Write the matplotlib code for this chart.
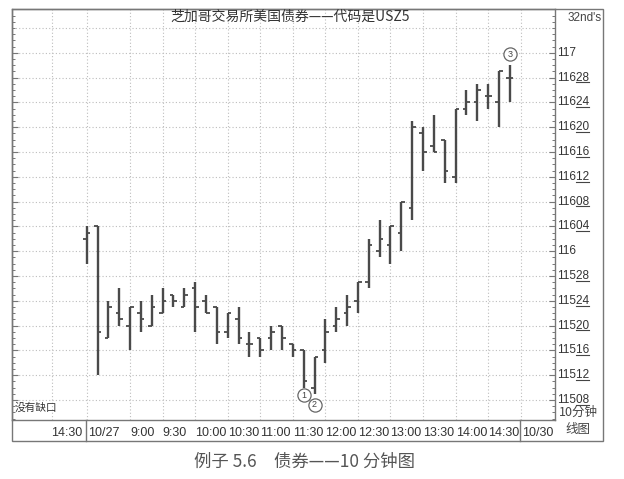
import matplotlib
matplotlib.use('Agg')
import matplotlib.pyplot as plt
from matplotlib.patches import Rectangle
from matplotlib.lines import Line2D
from matplotlib.ticker import MultipleLocator
import matplotlib.transforms as mtransforms

plt.rcParams['font.family'] = ['Liberation Sans', 'Noto Sans CJK SC', 'DejaVu Sans']

# ---- data: prices in 32nds above 115 (e.g. 32 = 116, 64 = 117) ----
opens  = [34, 36, 18, 22, 20, 22, 20, 22, 25, 23, 26, 24, 23, 19, 21, 17, 18, 18, 20, 17,
          16, 10, 16, 20, 22, 24, 27, 32, 33, 35, 39, 51, 49, 50, 44, 55, 56, 57, 56, 60]
highs  = [36, 36, 24, 26, 23, 24, 25, 26, 25, 26, 27, 25, 23, 22, 23, 19, 18, 20, 20, 17,
          16, 15, 21, 23, 25, 27, 34, 37, 36, 40, 53, 52, 54, 50, 55, 58, 59, 59, 61, 62]
lows   = [30, 12, 18, 20, 16, 19, 20, 22, 23, 23, 19, 22, 17, 18, 17, 15, 15, 16, 16, 15,
          10,  9, 14, 19, 20, 22, 26, 31, 30, 32, 37, 45, 48, 43, 43, 54, 53, 55, 52, 56]
closes = [35, 19, 23, 21, 23, 21, 23, 24, 24, 25, 23, 22, 19, 22, 18, 17, 16, 19, 18, 16,
          11, 15, 19, 21, 23, 27, 33, 34, 36, 40, 52, 48, 48, 45, 55, 56, 58, 57, 61, 60]

ytick_vals = [8, 12, 16, 20, 24, 28, 32, 36, 40, 44, 48, 52, 56, 60, 64]
ytick_labels = ['11508', '11512', '11516', '11520', '11524', '11528', '116',
                '11604', '11608', '11612', '11616', '11620', '11624', '11628', '117']
grid_y = [8, 12, 16, 20, 24, 28, 32, 36, 40, 44, 48, 52, 56, 60, 64, 68]

xtick_pos = [4, 7, 10, 13, 16, 19, 22, 25, 28, 31, 34, 37]
xtick_labels = ['9:00', '9:30', '10:00', '10:30', '11:00', '11:30', '12:00',
                '12:30', '13:00', '13:30', '14:00', '14:30']
grid_x = [-3.2, 0, 4, 7, 10, 13, 16, 19, 22, 25, 28, 31, 34, 37, 40]
day_sep = [0, 40]
day_labels = ['10/27', '10/30']
prev_label = '14:30'

marker_bars = [20, 21, 39]
marker_text = ['1', '2', '3']

title = '芝加哥交易所美国债券——代码是USZ5'
caption = '例子 5.6　债券——10 分钟图'

W, H = 624, 479
fig = plt.figure(figsize=(W / 100, H / 100), dpi=100)
fig.patch.set_facecolor('white')


def fx(x):
    return x / W


def fy(y):
    return 1 - y / H


L, T, R, B = 12, 9, 555, 420
ax = fig.add_axes([fx(L), fy(B), (R - L) / W, (B - T) / H])
ax.set_xlim(-6.88, 43.16)
ax.set_ylim(4.77, 71.06)

ec = '#777777'
for s in ax.spines.values():
    s.set_color(ec)
    s.set_linewidth(1.0)

# grid
gc = '#bdbdbd'
for gx in grid_x:
    ax.axvline(gx, color=gc, lw=0.8, ls=(0, (1, 2)), zorder=0)
for gy in grid_y:
    ax.axhline(gy, color=gc, lw=0.8, ls=(0, (1, 2)), zorder=0)

# ticks: ruler style on left and right spines
ax.set_xticks([])
ax.set_yticks(ytick_vals)
ax.set_yticklabels([])
ax.yaxis.set_minor_locator(MultipleLocator(1))
ax.tick_params(axis='y', which='major', direction='in', length=4, width=0.8,
               color=ec, left=True, right=True, labelleft=False, labelright=False)
ax.tick_params(axis='y', which='minor', direction='in', length=2.5, width=0.7,
               color=ec, left=True, right=True)

# OHLC bars
bc = '#4a4a4a'
xs = list(range(len(opens)))
tw = 0.33
ax.vlines(xs, lows, highs, color=bc, lw=1.7, zorder=3)
ax.hlines(opens, [x - tw for x in xs], xs, color=bc, lw=1.3, zorder=3)
ax.hlines(closes, xs, [x + tw for x in xs], color=bc, lw=1.3, zorder=3)

# circled markers
for b, t in zip(marker_bars, marker_text):
    if t == '3':
        yv = highs[b] + 1.8
    elif t == '2':
        yv = lows[b] - 1.8
    else:
        yv = lows[b] - 1.2
    ax.plot([b], [yv], marker='o', ms=9.5, mfc='white', mec='#666666', mew=0.9,
            zorder=5, clip_on=False)
    ax.text(b, yv, t, ha='center', va='center', fontsize=6.5, color='#444444', zorder=6)

# title inside plot and gap note
fig.text(fx(290), fy(17), title, ha='center', va='center', fontsize=10,
         color='#333333', family=['Noto Sans CJK SC', 'DejaVu Sans'])
fig.text(fx(15), fy(408), '没有缺口', ha='left', va='center', fontsize=7.7,
         color='#333333', family=['Noto Sans CJK SC', 'DejaVu Sans'])

# outer frame
fig.add_artist(Rectangle((fx(L), fy(441)), fx(603) - fx(L), fy(T) - fy(441),
                         transform=fig.transFigure, fill=False, ec=ec, lw=1.0))

# x labels row
trx = mtransforms.blended_transform_factory(ax.transData, fig.transFigure)
for p, lab in zip(xtick_pos, xtick_labels):
    ax.text(p, fy(433), lab, transform=trx, ha='left', va='center', fontsize=9,
            color='#333333')
for p, lab in zip(day_sep, day_labels):
    ax.text(p + 0.15, fy(433), lab, transform=trx, ha='left', va='center',
            fontsize=9, color='#333333')
    fig.add_artist(Line2D([p - 0.06, p - 0.06], [fy(B), fy(441)], color=ec, lw=1.0,
                          transform=trx))
ax.text(day_sep[0] - 0.4, fy(433), prev_label, transform=trx, ha='right',
        va='center', fontsize=9, color='#333333')

# right price labels
try_ = mtransforms.blended_transform_factory(fig.transFigure, ax.transData)
ylabs = []
for v, lab in zip(ytick_vals, ytick_labels):
    t = ax.text(fx(557), v, lab, transform=try_, ha='left', va='center',
                fontsize=8.5, color='#333333')
    ylabs.append((t, lab))

fig.text(fx(602), fy(18), "32nd's", ha='right', va='center', fontsize=8.5,
         color='#444444')
fig.text(fx(578), fy(412), '10分钟', ha='center', va='center', fontsize=9,
         color='#444444', family=['Noto Sans CJK SC', 'DejaVu Sans'])
fig.text(fx(578), fy(429), '线图', ha='center', va='center', fontsize=9,
         color='#444444', family=['Noto Sans CJK SC', 'DejaVu Sans'])

# caption
fig.text(fx(304), fy(462), caption, ha='center', va='center', fontsize=12.5,
         color='#555555', family=['Noto Sans CJK SC', 'DejaVu Sans'])

# underline last two digits of 32nds labels
fig.canvas.draw()
r = fig.canvas.get_renderer()
for t, lab in ylabs:
    if len(lab) == 5:
        bb = t.get_window_extent(r)
        x0 = bb.x0 + bb.width * 3 / 5
        x1 = bb.x1
        yy = bb.y0 + 1.2
        fig.add_artist(Line2D([x0 / W, x1 / W], [yy / H, yy / H],
                              transform=fig.transFigure, color='#444444', lw=0.8))

fig.savefig('out.png', dpi=100, facecolor='white')
